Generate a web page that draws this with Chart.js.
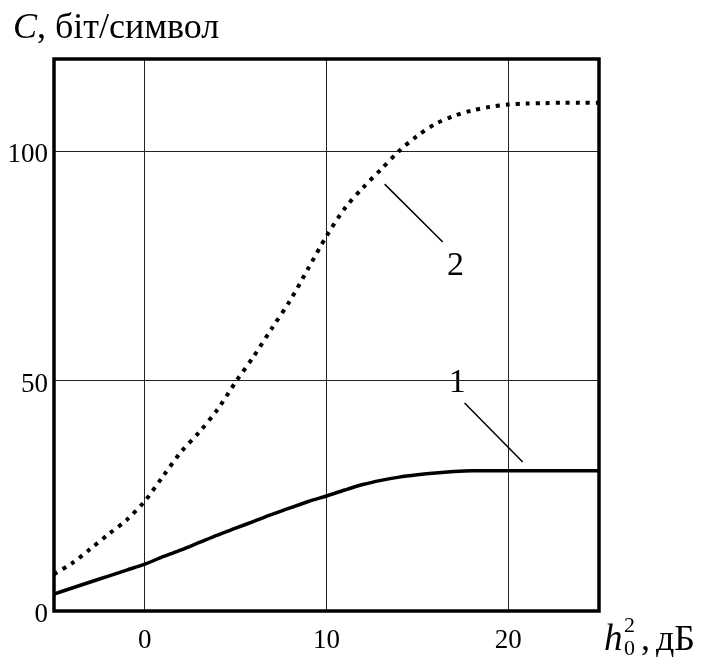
<!DOCTYPE html>
<html>
<head>
<meta charset="utf-8">
<script src="https://cdn.jsdelivr.net/npm/chart.js@4"></script>
<style>
  html, body { margin: 0; padding: 0; background: #fff; }
  #wrap { width: 704px; height: 665px; }
</style>
</head>
<body>
<div id="wrap"><canvas id="capChart" width="704" height="665"></canvas></div>
<script>
// ---------- Data ----------
const snrDb = [-5, -4, -3, -2, -1, 0, 1, 2, 3, 4, 5, 6, 7, 8, 9, 10, 11, 12, 13, 14, 15, 16, 17, 18, 19, 20, 21, 22, 23, 24, 25];
const curve1 = [3.7, 5.0, 6.3, 7.6, 8.9, 10.2, 11.8, 13.3, 14.9, 16.5, 18.0, 19.5, 21.0, 22.4, 23.8, 25.0, 26.3, 27.5, 28.4, 29.1, 29.6, 30.0, 30.3, 30.5, 30.5, 30.5, 30.5, 30.5, 30.5, 30.5, 30.5];
const curve2 = [8.0, 10.4, 13.5, 16.7, 19.8, 23.9, 29.3, 34.6, 38.9, 43.8, 49.8, 55.4, 61.5, 67.5, 74.5, 81.5, 87.5, 92.0, 96.0, 100.0, 103.3, 105.9, 107.6, 108.8, 109.6, 110.1, 110.3, 110.4, 110.5, 110.5, 110.5];
const xTicks = [0, 10, 20];
const yTicks = [0, 50, 100];

// curve labels with leader lines (in data units)
const curveLabels = [
    { text: "1", x: 17.2, y: 49.5, from: [17.6, 45.2], to: [20.8, 32.4] },
    { text: "2", x: 17.1, y: 75.0, from: [13.2, 92.8], to: [16.4, 80.2] }
];

const serif = '"Liberation Serif", "DejaVu Serif", serif';

function toPoints(ys) {
    return snrDb.map((x, i) => ({ x: x, y: ys[i] }));
}

// ---------- Plugins ----------
const frameAndText = {
    id: "frameAndText",
    afterDatasetsDraw(chart) {
        const ctx = chart.ctx;
        const a = chart.chartArea;
        const xs = chart.scales.x, ys = chart.scales.y;
        ctx.save();

        // thick frame
        ctx.strokeStyle = "#000";
        ctx.lineWidth = 3.5;
        ctx.strokeRect(a.left, a.top, a.right - a.left, a.bottom - a.top);

        // leader lines + numbers
        ctx.lineWidth = 1.5;
        ctx.fillStyle = "#000";
        ctx.font = "34px " + serif;
        ctx.textAlign = "center";
        ctx.textBaseline = "middle";
        curveLabels.forEach(l => {
            ctx.beginPath();
            ctx.moveTo(xs.getPixelForValue(l.from[0]), ys.getPixelForValue(l.from[1]));
            ctx.lineTo(xs.getPixelForValue(l.to[0]), ys.getPixelForValue(l.to[1]));
            ctx.stroke();
            ctx.fillText(l.text, xs.getPixelForValue(l.x), ys.getPixelForValue(l.y));
        });

        // y axis title
        ctx.textAlign = "left";
        ctx.textBaseline = "alphabetic";
        ctx.font = "italic 36px " + serif;
        ctx.fillText("C", 13, 38);
        let w = ctx.measureText("C").width;
        ctx.font = "36px " + serif;
        ctx.fillText(", біт/символ", 13 + w, 38);

        // x axis title  h0^2, дБ
        ctx.font = "italic 37px " + serif;
        ctx.fillText("h", 604, 650);
        ctx.font = "22px " + serif;
        ctx.fillText("2", 624, 632);
        ctx.fillText("0", 624, 655);
        ctx.font = "36px " + serif;
        ctx.fillText(",", 641, 650);
        ctx.fillText("дБ", 656, 650);

        ctx.restore();
    }
};

// ---------- Chart ----------
const ctx = document.getElementById("capChart").getContext("2d");
new Chart(ctx, {
    type: "line",
    data: {
        datasets: [
            {
                label: "1",
                data: toPoints(curve1),
                borderColor: "#000",
                borderWidth: 3.5,
                pointRadius: 0,
                tension: 0.3,
                fill: false
            },
            {
                label: "2",
                data: toPoints(curve2),
                borderColor: "#000",
                borderWidth: 4,
                borderDash: [4, 6],
                pointRadius: 0,
                tension: 0.3,
                fill: false
            }
        ]
    },
    options: {
        responsive: false,
        animation: false,
        layout: { padding: { top: 59, right: 105, left: 0, bottom: 0 } },
        plugins: {
            legend: { display: false },
            tooltip: { enabled: false },
            title: { display: false }
        },
        scales: {
            x: {
                type: "linear",
                min: -5,
                max: 25,
                afterBuildTicks: s => { s.ticks = xTicks.map(v => ({ value: v })); },
                afterFit: s => { s.height = 54; },
                border: { display: false },
                grid: { color: "#222", lineWidth: 1, drawTicks: false },
                ticks: {
                    color: "#000",
                    padding: 14,
                    font: { family: serif, size: 27 }
                }
            },
            y: {
                min: 0,
                max: 120,
                afterBuildTicks: s => { s.ticks = yTicks.map(v => ({ value: v })); },
                afterFit: s => { s.width = 54; },
                border: { display: false },
                grid: { color: "#222", lineWidth: 1, drawTicks: false },
                ticks: {
                    color: "#000",
                    padding: 6,
                    labelOffset: 4,
                    font: { family: serif, size: 27 }
                }
            }
        }
    },
    plugins: [frameAndText]
});
</script>
</body>
</html>
